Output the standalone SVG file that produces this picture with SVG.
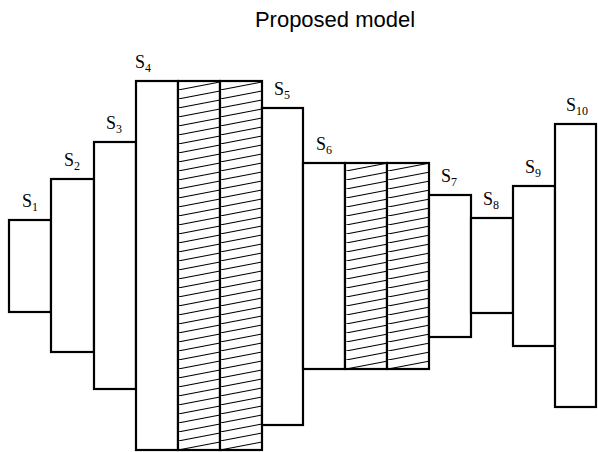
<svg xmlns="http://www.w3.org/2000/svg" width="598" height="452" viewBox="0 0 598 452">
<style>
.box{fill:#fff;stroke:#000;stroke-width:2.2}
.hbox{fill:url(#hatch);stroke:#000;stroke-width:2.2}
.lbl{font-family:"Liberation Serif","DejaVu Serif",serif;font-size:18px;fill:#000}
.sub{font-size:12px}
.title{font-family:"Liberation Sans",Arial,sans-serif;font-size:22px;fill:#000}
</style>
<defs>
<pattern id="hatch" patternUnits="userSpaceOnUse" x="178" y="81" width="42" height="9">
<rect width="42" height="9" fill="#fff"/>
<line x1="0" y1="9" x2="42" y2="1" stroke="#000" stroke-width="1.1"/>
</pattern>
</defs>
<rect width="598" height="452" fill="#fff"/>
<text class="title" x="335" y="27" text-anchor="middle">Proposed model</text>
<g id="connectors"></g>
<g id="s1"><rect class="box" x="9" y="220" width="42" height="92"/><text class="lbl" x="22" y="207">S<tspan class="sub" dy="4">1</tspan></text></g>
<g id="s2"><rect class="box" x="51" y="179" width="43" height="173"/><text class="lbl" x="64" y="166">S<tspan class="sub" dy="4">2</tspan></text></g>
<g id="s3"><rect class="box" x="94" y="142" width="42" height="247"/><text class="lbl" x="106" y="129">S<tspan class="sub" dy="4">3</tspan></text></g>
<g id="s4"><rect class="box" x="136" y="81" width="42" height="369"/><text class="lbl" x="135" y="68">S<tspan class="sub" dy="4">4</tspan></text></g>
<g id="s4a"><rect class="hbox" x="178" y="81" width="42" height="369"/></g>
<g id="s4b"><rect class="hbox" x="220" y="81" width="42" height="369"/></g>
<g id="s5"><rect class="box" x="262" y="108" width="41" height="317"/><text class="lbl" x="274" y="95">S<tspan class="sub" dy="4">5</tspan></text></g>
<g id="s6"><rect class="box" x="303" y="163" width="42" height="206"/><text class="lbl" x="316" y="150">S<tspan class="sub" dy="4">6</tspan></text></g>
<g id="s6a"><rect class="hbox" x="345" y="163" width="42" height="206"/></g>
<g id="s6b"><rect class="hbox" x="387" y="163" width="42" height="206"/></g>
<g id="s7"><rect class="box" x="429" y="195" width="42" height="142"/><text class="lbl" x="441" y="182">S<tspan class="sub" dy="4">7</tspan></text></g>
<g id="s8"><rect class="box" x="471" y="218" width="42" height="95"/><text class="lbl" x="483" y="205">S<tspan class="sub" dy="4">8</tspan></text></g>
<g id="s9"><rect class="box" x="513" y="186" width="42" height="160"/><text class="lbl" x="525" y="173">S<tspan class="sub" dy="4">9</tspan></text></g>
<g id="s10"><rect class="box" x="555" y="124" width="41" height="283"/><text class="lbl" x="566" y="111">S<tspan class="sub" dy="4">10</tspan></text></g>
</svg>
